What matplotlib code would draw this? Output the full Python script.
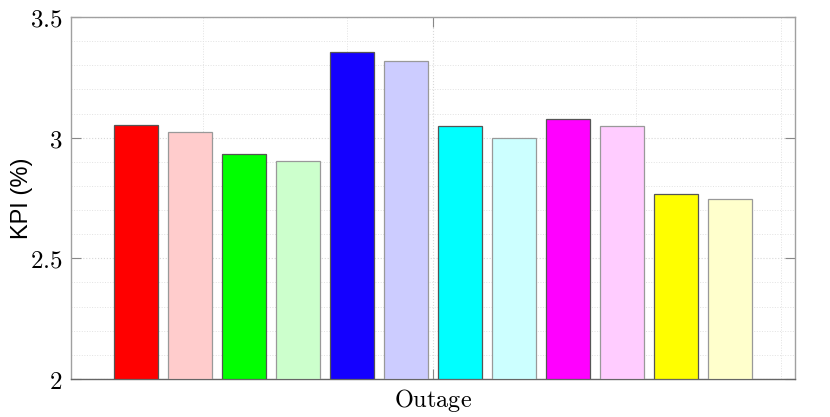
import numpy as np
import matplotlib
matplotlib.use("Agg")
import matplotlib.pyplot as plt
from matplotlib.ticker import FixedLocator, MultipleLocator

plt.rcParams['mathtext.fontset'] = 'cm'

# data
kpi = [3.054, 3.025, 2.931, 2.902, 3.354, 3.319,
       3.047, 3.000, 3.079, 3.047, 2.765, 2.746]
bar_colors = ['#ff0000', '#ffcccc', '#00ff00', '#ccffcc', '#1400ff', '#ccccff',
              '#00ffff', '#ccffff', '#ff00ff', '#ffccff', '#ffff00', '#ffffcc']
edge_colors = ['#555555', '#999999'] * 6
group_label = 'Outage'
y_ticks = [2, 2.5, 3, 3.5]

fig = plt.figure(figsize=(8.3, 4.17), dpi=100)
ax = fig.add_axes([0.0855, 0.0911, 0.8723, 0.8681])

n = len(kpi)
pitch = 0.0747
x = 1 + (np.arange(n) - (n - 1) / 2) * pitch
ax.bar(x, np.array(kpi) - 2, bottom=2, width=0.0608, color=bar_colors,
       edgecolor=edge_colors, linewidth=0.9, zorder=3)

ax.set_xlim(0.5, 1.5)
ax.set_ylim(2, 3.5)

ax.set_xticks([1])
ax.set_xticklabels(['$\\mathrm{' + group_label + '}$'], fontsize=17.5)
ax.xaxis.set_minor_locator(FixedLocator([0.682, 0.881, 1.281, 1.481]))
ax.set_yticks(y_ticks)
ax.set_yticklabels(['$%g$' % t for t in y_ticks], fontsize=18)
ax.yaxis.set_minor_locator(MultipleLocator(0.1))

ax.tick_params(which='major', direction='in', length=7, width=0.8, color='#888888',
               top=True, right=True, pad=6)
ax.tick_params(which='minor', length=0, top=True, right=True)

ax.grid(which='major', linestyle=':', color='#d8d8d8', linewidth=0.8, zorder=0)
ax.grid(which='minor', linestyle=':', color='#e2e2e2', linewidth=0.7, zorder=0)
ax.set_axisbelow(True)

for s in ax.spines.values():
    s.set_color('#a0a0a0')
    s.set_linewidth(1.0)
ax.spines['bottom'].set_color('#666666')

ax.set_ylabel('KPI (%)', fontsize=17, family=['Liberation Sans', 'DejaVu Sans'])
ax.yaxis.set_label_coords(-0.0525, 0.5)

fig.savefig('out.png', dpi=100)
